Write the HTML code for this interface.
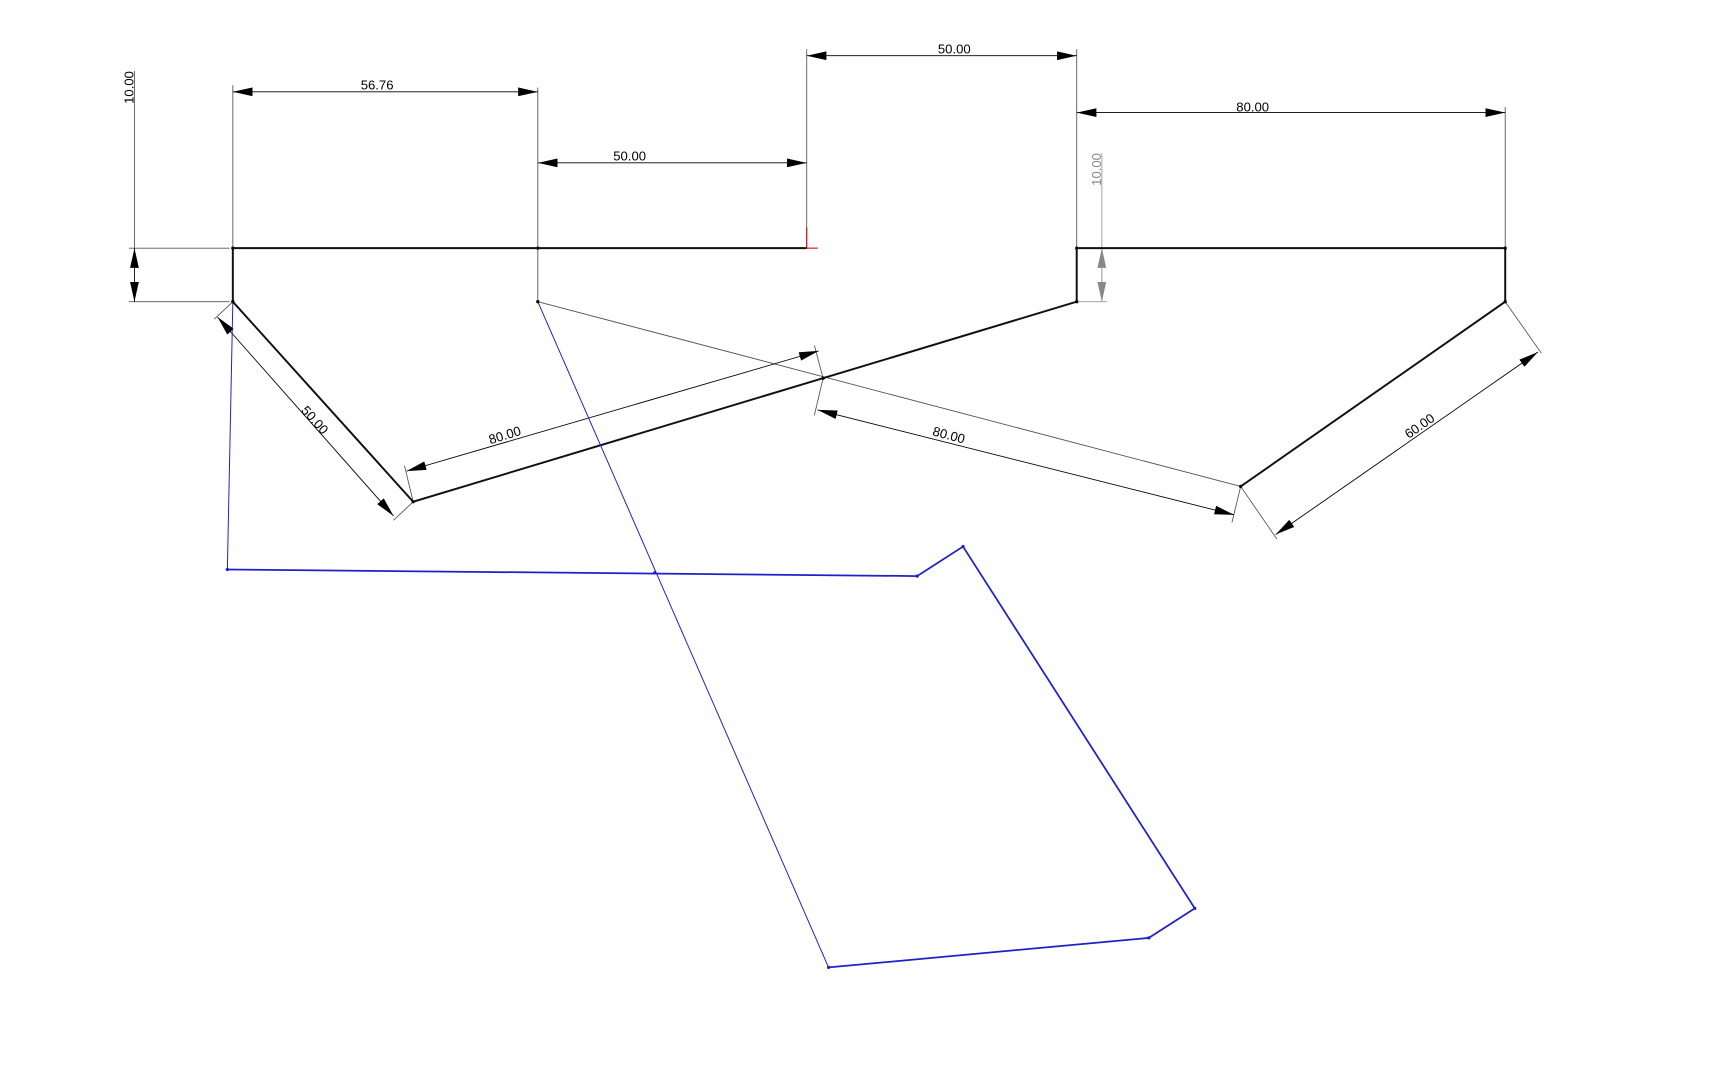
<!DOCTYPE html>
<html><head><style>html,body{margin:0;padding:0;background:#fff;overflow:hidden}svg{display:block}text{font-family:"Liberation Sans",sans-serif;font-size:12px;fill:#000}</style></head>
<body>
<svg width="1714" height="1080" viewBox="0 0 1568 988" preserveAspectRatio="none" xmlns="http://www.w3.org/2000/svg">
<defs>
<marker id="a" viewBox="0 0 10 10" refX="10" refY="5" markerWidth="18" markerHeight="8" markerUnits="userSpaceOnUse" preserveAspectRatio="none" orient="auto-start-reverse"><path d="M0,0L10,5L0,10z" fill="#000"/></marker>
<marker id="g" viewBox="0 0 10 10" refX="10" refY="5" markerWidth="18" markerHeight="8" markerUnits="userSpaceOnUse" preserveAspectRatio="none" orient="auto-start-reverse"><path d="M0,0L10,5L0,10z" fill="#888"/></marker>
</defs>
<g stroke="#555" stroke-width="0.8" fill="none">
<line x1="213" y1="78" x2="213" y2="227"/>
<line x1="492" y1="80" x2="492" y2="276"/>
<line x1="738" y1="45" x2="738" y2="227"/>
<line x1="985" y1="45" x2="985" y2="227"/>
<line x1="1377" y1="98" x2="1377" y2="227"/>
<line x1="123" y1="65" x2="123" y2="227"/>
<line x1="118" y1="227" x2="210" y2="227"/>
<line x1="118" y1="276" x2="210" y2="276"/>
<line x1="492" y1="276" x2="1135" y2="445"/>
<line x1="213" y1="276" x2="196" y2="292"/>
<line x1="378" y1="459" x2="360" y2="476"/>
<line x1="378" y1="459" x2="370" y2="426"/>
<line x1="753" y1="346" x2="745" y2="316"/>
<line x1="753" y1="346" x2="745" y2="380"/>
<line x1="1135" y1="445" x2="1127" y2="478"/>
<line x1="1135" y1="445" x2="1168" y2="493"/>
<line x1="1377" y1="276" x2="1410" y2="323"/>
</g>
<g stroke="#000" stroke-width="0.8">
<line x1="213" y1="84" x2="492" y2="84" marker-start="url(#a)" marker-end="url(#a)"/>
<line x1="492" y1="149" x2="738" y2="149" marker-start="url(#a)" marker-end="url(#a)"/>
<line x1="738" y1="51" x2="985" y2="51" marker-start="url(#a)" marker-end="url(#a)"/>
<line x1="985" y1="103" x2="1377" y2="103" marker-start="url(#a)" marker-end="url(#a)"/>
<line x1="123" y1="227" x2="123" y2="276" marker-start="url(#a)" marker-end="url(#a)"/>
<line x1="199" y1="290" x2="360" y2="472" marker-start="url(#a)" marker-end="url(#a)"/>
<line x1="372" y1="431" x2="749" y2="321" marker-start="url(#a)" marker-end="url(#a)"/>
<line x1="748" y1="375" x2="1129" y2="471" marker-start="url(#a)" marker-end="url(#a)"/>
<line x1="1167" y1="489" x2="1407" y2="322" marker-start="url(#a)" marker-end="url(#a)"/>
</g>
<g stroke="#999" stroke-width="0.8">
<line x1="1008" y1="140" x2="1008" y2="276"/>
<line x1="985" y1="276" x2="1013" y2="276"/>
<line x1="1008" y1="227" x2="1008" y2="276" marker-start="url(#g)" marker-end="url(#g)"/>
</g>
<g stroke="#111" stroke-width="1.8" fill="none">
<polyline points="738,227 213,227 213,276 378,459 985,276 985,227"/>
<polyline points="985,227 1377,227 1377,276 1135,445"/>
</g>
<g stroke="#2020c8" fill="none">
<line x1="213" y1="276" x2="208" y2="521" stroke-width="0.9"/>
<line x1="492" y1="276" x2="758" y2="885" stroke-width="0.9"/>
<polyline points="208,521 839,527 881,500 1093,831 1051,858 758,885" stroke-width="1.6"/>
</g>
<g fill="#000">
<circle cx="213" cy="227" r="1.5"/><circle cx="492" cy="227" r="1.5"/><circle cx="213" cy="276" r="1.5"/><circle cx="492" cy="276" r="1.5"/><circle cx="378" cy="459" r="1.5"/><circle cx="985" cy="276" r="1.5"/><circle cx="985" cy="227" r="1.5"/><circle cx="1377" cy="227" r="1.5"/><circle cx="1377" cy="276" r="1.5"/><circle cx="1135" cy="445" r="1.5"/><circle cx="753" cy="346" r="1.5"/>
</g>
<g fill="#2020c8"><circle cx="208" cy="521" r="1.5"/><circle cx="839" cy="527" r="1.5"/><circle cx="881" cy="500" r="1.5"/><circle cx="1093" cy="831" r="1.5"/><circle cx="1051" cy="858" r="1.5"/><circle cx="758" cy="885" r="1.5"/><circle cx="599" cy="524" r="1.5"/></g>
<line x1="738" y1="227" x2="738" y2="208" stroke="#d00" stroke-width="1"/>
<line x1="738" y1="227" x2="748" y2="227" stroke="#d00" stroke-width="1"/>
<text x="345" y="82" text-anchor="middle">56.76</text>
<text x="576" y="147" text-anchor="middle">50.00</text>
<text x="873" y="49" text-anchor="middle">50.00</text>
<text x="1146" y="102" text-anchor="middle">80.00</text>
<text transform="translate(122,80) rotate(-90)" text-anchor="middle">10.00</text>
<text transform="translate(1007,155) rotate(-90)" text-anchor="middle" style="fill:#888">10.00</text>
<text transform="translate(285,387) rotate(48)" text-anchor="middle">50.00</text>
<text transform="translate(463,402) rotate(-17)" text-anchor="middle">80.00</text>
<text transform="translate(867,402) rotate(15)" text-anchor="middle">80.00</text>
<text transform="translate(1301,393) rotate(-35)" text-anchor="middle">60.00</text>
</svg>
</body></html>
